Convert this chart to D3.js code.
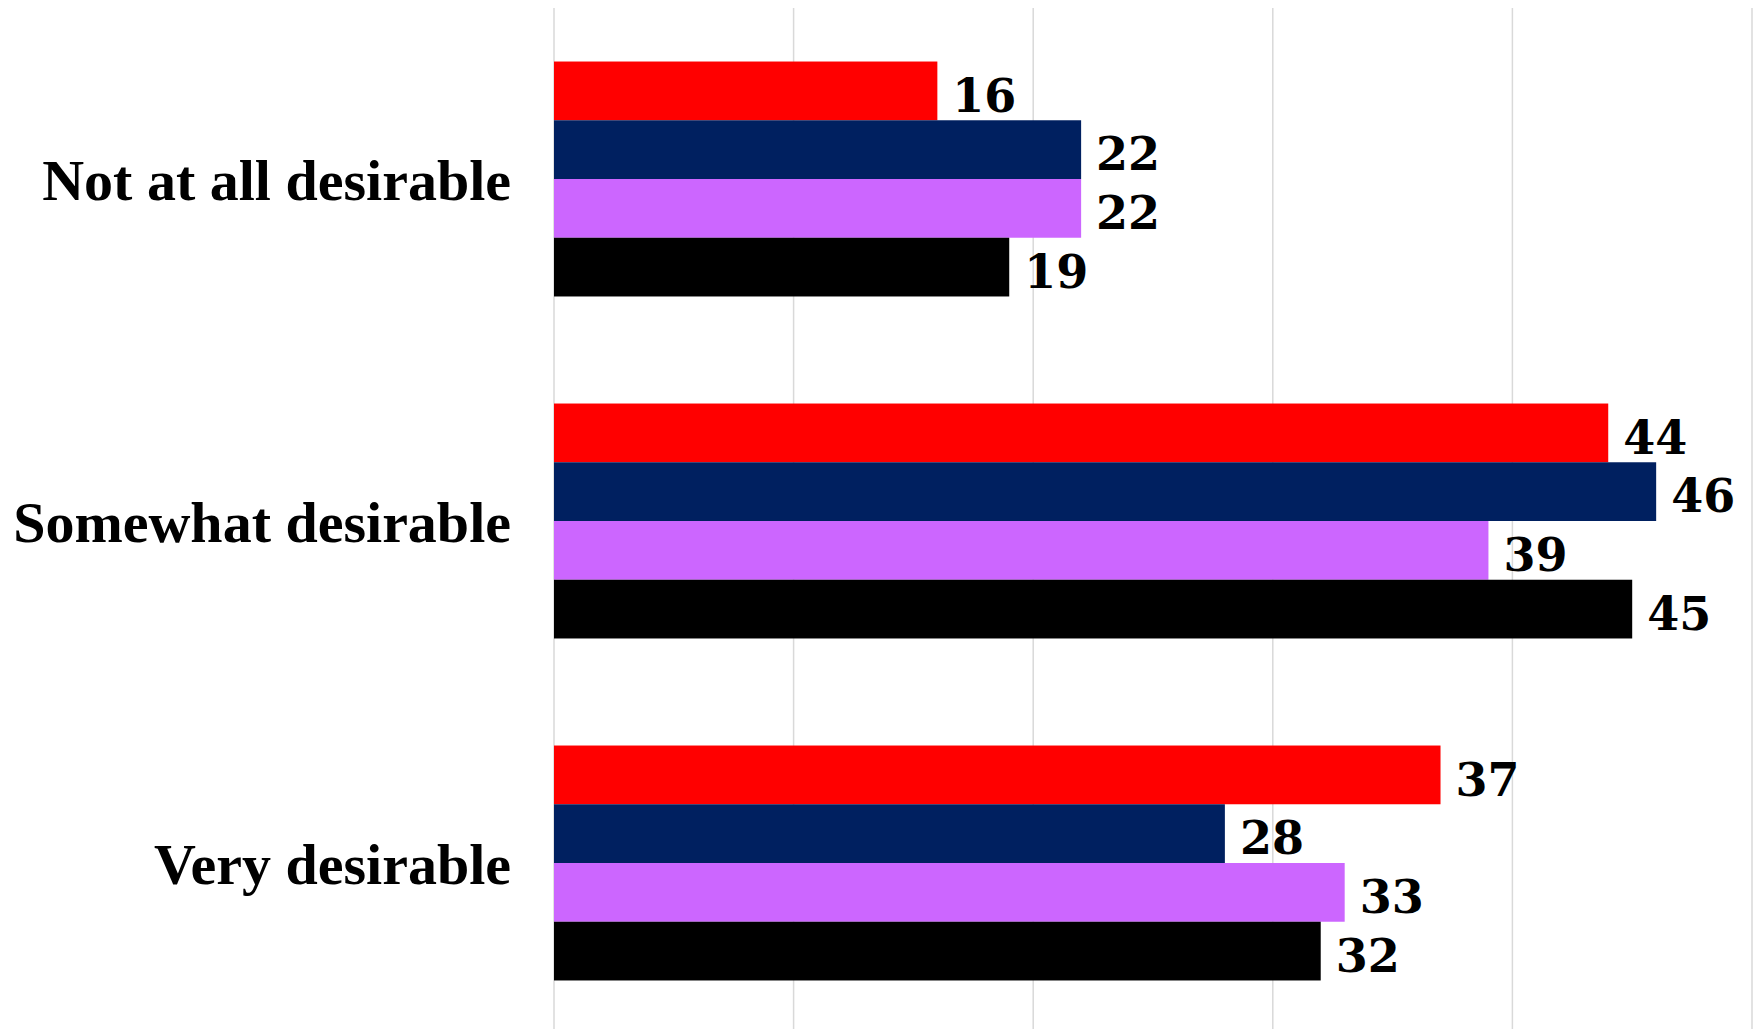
<!DOCTYPE html>
<html>
<head>
<meta charset="utf-8">
<script src="https://cdn.jsdelivr.net/npm/d3@7"></script>
<style>
  html, body { margin: 0; padding: 0; background: #fff; }
</style>
</head>
<body>
<div class="chart"></div>
<script>
var w = 1758, h = 1029;

// data
var categories = ['Not at all desirable', 'Somewhat desirable', 'Very desirable'];
var seriesNames = ['s1', 's2', 's3', 's4'];
var seriesColors = ['#ff0000', '#002060', '#cc66ff', '#000000'];
var s1 = [16, 44, 37],
	s2 = [22, 46, 28],
	s3 = [22, 39, 33],
	s4 = [19, 45, 32];
var ticks = [0, 10, 20, 30, 40, 50];

var series = [s1, s2, s3, s4];

// plot box (not "top": that name belongs to window)
var plotL = 554, plotR = 1752, plotT = 8, plotB = 1034;

var x = d3.scaleLinear().domain([0, 50]).range([plotL, plotR]);
var y = d3.scaleBand().domain(categories).range([plotT, plotB])
			.paddingInner(0.313)
			.paddingOuter(0.1565);
var yi = d3.scaleBand().domain(seriesNames).range([0, y.bandwidth()]);

var svg = d3.select('.chart').append('svg')
	.attr('width', w)
	.attr('height', h);

// vertical gridlines
svg.append('g').selectAll('line')
	.data(ticks)
	.enter()
	.append('line')
	.attr('x1', function(d){ return x(d); })
	.attr('x2', function(d){ return x(d); })
	.attr('y1', plotT)
	.attr('y2', h)
	.attr('stroke', '#d9d9d9')
	.attr('stroke-width', 1.5);

var rows = [];
categories.forEach(function(c, i){
	series.forEach(function(s, j){
		rows.push({ cat: c, name: seriesNames[j], color: seriesColors[j], value: s[i] });
	});
});

svg.append('g').selectAll('rect')
	.data(rows)
	.enter()
	.append('rect')
	.attr('x', x(0))
	.attr('y', function(d){ return y(d.cat) + yi(d.name); })
	.attr('width', function(d){ return x(d.value) - x(0); })
	.attr('height', yi.bandwidth())
	.attr('fill', function(d){ return d.color; });

svg.append('g').selectAll('text')
	.data(rows)
	.enter()
	.append('text')
	.attr('x', function(d){ return x(d.value) + 15; })
	.attr('y', function(d){ return y(d.cat) + yi(d.name) + yi.bandwidth() / 2; })
	.attr('dy', '0.45em')
	.attr('font-family', '"DejaVu Serif", serif')
	.attr('font-weight', 'bold')
	.attr('font-size', 46)
	.attr('fill', '#000')
	.text(function(d){ return d.value; });

// category labels
svg.append('g').selectAll('text')
	.data(categories)
	.enter()
	.append('text')
	.attr('x', 511)
	.attr('y', function(d){ return y(d) + y.bandwidth() / 2; })
	.attr('dy', '0.36em')
	.attr('text-anchor', 'end')
	.attr('font-family', '"Liberation Serif", "Times New Roman", serif')
	.attr('font-weight', 'bold')
	.attr('font-size', 58)
	.attr('fill', '#000')
	.text(function(d){ return d; });
</script>
</body>
</html>
